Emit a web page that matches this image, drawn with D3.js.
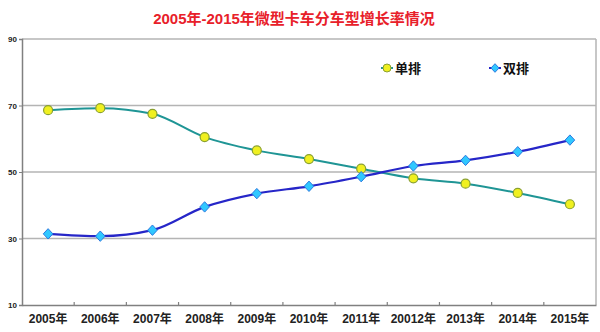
<!DOCTYPE html>
<html><head><meta charset="utf-8">
<script src="https://cdn.jsdelivr.net/npm/d3@7"></script>
<style>body{margin:0;background:#fff}svg{display:block}</style>
</head><body>
<svg id="c" width="600" height="332"></svg>
<script>
const categories = ["2005年","2006年","2007年","2008年","2009年","2010年","2011年","20012年","2013年","2014年","2015年"];
const singleRow = [68.6,69.2,67.5,60.5,56.5,53.9,51.0,48.1,46.5,43.7,40.3];
const doubleRow = [31.4,30.7,32.5,39.5,43.5,45.7,48.6,51.8,53.5,56.1,59.6];
const yTicks = [10,30,50,70,90];
const seriesNames = ["单排","双排"];
const title = "2005年-2015年微型卡车分车型增长率情况";

const svg = d3.select("#c");
const L=22, R=596, T=39, B=305;
const x = d3.scaleBand().domain(categories).range([L,R]);
const y = d3.scaleLinear().domain([10,90]).range([B,T]);
const cx = d => x(d)+x.bandwidth()/2;
const font = "'Liberation Sans','Noto Sans CJK SC',sans-serif";

svg.append("text").attr("x",294).attr("y",24).attr("text-anchor","middle")
  .attr("font-family",font).attr("font-weight","bold").attr("font-size",15)
  .attr("fill","#e8202a").text(title);

// gridlines (incl. top border)
svg.append("g").selectAll("line").data(yTicks.filter(t=>t>10)).join("line")
  .attr("x1",L).attr("x2",R).attr("y1",d=>y(d)).attr("y2",d=>y(d))
  .attr("stroke","#b4b4b4").attr("stroke-width",1.5);
// right border
svg.append("line").attr("x1",R).attr("x2",R).attr("y1",T).attr("y2",B).attr("stroke","#b4b4b4").attr("stroke-width",1.5);

// y axis
const ya = svg.append("g").attr("transform",`translate(${L},0)`)
  .call(d3.axisLeft(y).tickValues(yTicks).tickSize(3).tickFormat(d3.format("d")));
ya.select(".domain").attr("stroke","#808080").attr("stroke-width",1.5);
ya.selectAll(".tick line").attr("stroke","#808080");
ya.selectAll("text").attr("font-family",font).attr("font-weight","bold").attr("font-size",8).attr("fill","#222").attr("x",-5);

// x axis
const xa = svg.append("g").attr("transform",`translate(0,${B})`)
  .call(d3.axisBottom(x).tickSize(0).tickPadding(9));
xa.select(".domain").attr("stroke","#808080").attr("stroke-width",1.5);
xa.selectAll("text").attr("font-family",font).attr("font-weight","bold").attr("font-size",12).attr("fill","#222");
svg.append("g").selectAll("line").data(categories.slice(1)).join("line")
  .attr("x1",d=>x(d)).attr("x2",d=>x(d)).attr("y1",B).attr("y2",B-3)
  .attr("stroke","#808080").attr("stroke-width",1.2);

const line = d3.line().x((d,i)=>cx(categories[i])).y(d=>y(d)).curve(d3.curveMonotoneX);

svg.append("path").datum(singleRow).attr("d",line).attr("fill","none").attr("stroke","#1f9595").attr("stroke-width",2);
svg.append("path").datum(doubleRow).attr("d",line).attr("fill","none").attr("stroke","#2626c8").attr("stroke-width",2.2);

svg.append("g").selectAll("circle").data(singleRow).join("circle")
  .attr("cx",(d,i)=>cx(categories[i])).attr("cy",d=>y(d)).attr("r",4.5)
  .attr("fill","#f0f020").attr("stroke","#8aa030").attr("stroke-width",1.2);
const dia = (w,h) => `M0,${-h}L${w},0L0,${h}L${-w},0Z`;
svg.append("g").selectAll("path").data(doubleRow).join("path")
  .attr("transform",(d,i)=>`translate(${cx(categories[i])},${y(d)})`).attr("d",dia(4.8,5.2))
  .attr("fill","#30c8ff").attr("stroke","#2a7ae0").attr("stroke-width",1).attr("stroke-linejoin","round");

// legend
const lg = svg.append("g");
lg.append("line").attr("x1",381).attr("x2",393).attr("y1",68).attr("y2",68).attr("stroke","#1f9595").attr("stroke-width",2);
lg.append("circle").attr("cx",387).attr("cy",68).attr("r",4).attr("fill","#f0f020").attr("stroke","#8aa030");
lg.append("text").attr("x",395).attr("y",73).attr("font-family",font).attr("font-weight","bold").attr("font-size",13).attr("fill","#111").text(seriesNames[0]);
lg.append("line").attr("x1",489).attr("x2",501).attr("y1",68).attr("y2",68).attr("stroke","#2626c8").attr("stroke-width",2);
lg.append("path").attr("transform","translate(495,68)").attr("d",dia(4,4.3)).attr("fill","#30c8ff").attr("stroke","#2a7ae0").attr("stroke-linejoin","round");
lg.append("text").attr("x",503).attr("y",73).attr("font-family",font).attr("font-weight","bold").attr("font-size",13).attr("fill","#111").text(seriesNames[1]);
</script>
</body></html>
